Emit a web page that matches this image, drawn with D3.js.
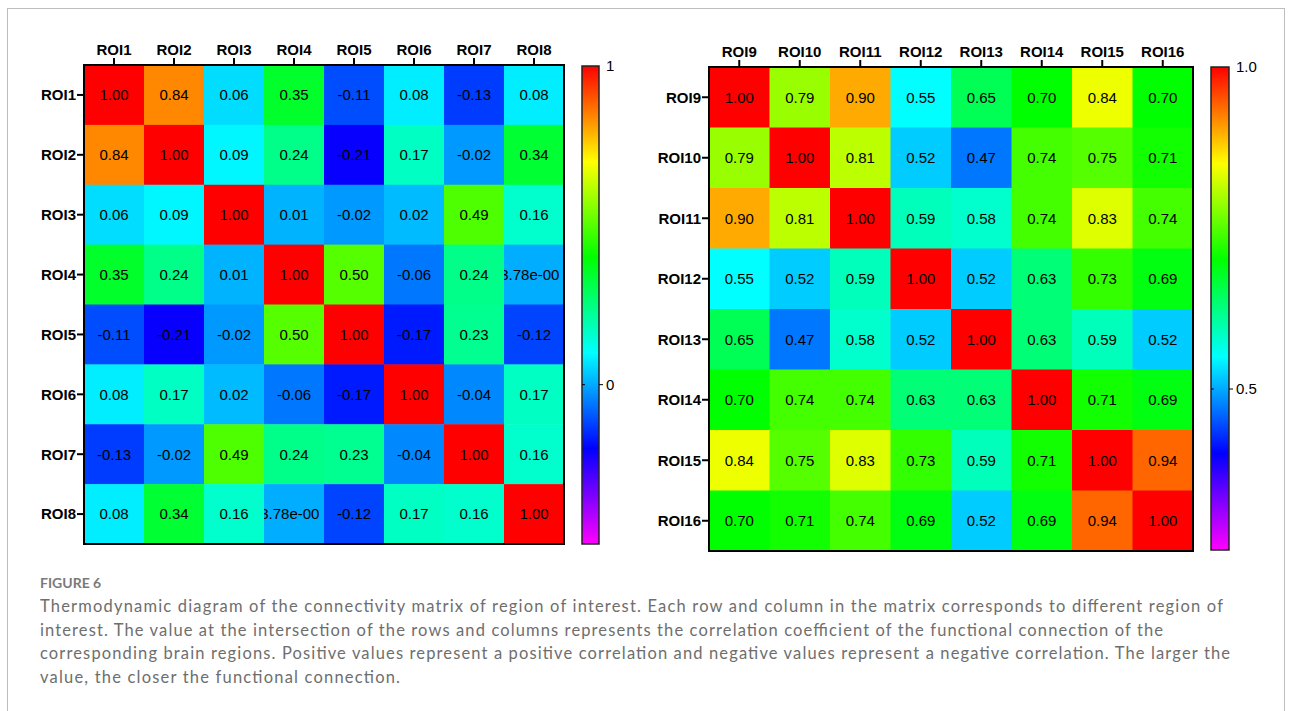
<!DOCTYPE html>
<html lang="en">
<head>
<meta charset="utf-8" />
<title>Figure 6 · ROI connectivity</title>
<style>
html,body{margin:0;background:#fff}
svg{display:block}
.lab{font:bold 15px "Liberation Sans",Arial,sans-serif;fill:#000}
.val{font:15px "Liberation Sans",Arial,sans-serif;fill:#000}
.cb{font:15px "Liberation Sans",Arial,sans-serif;fill:#000}
.cap{font:16.5px Lato,"Open Sans",sans-serif;fill:#6e6e6e}
.fig{font:bold 14px Lato,"Open Sans",sans-serif;fill:#7a7a7a}
</style>
<script src="https://cdn.jsdelivr.net/npm/d3@7/dist/d3.min.js"></script>
</head>
<body>
<div id="chart"></div>
<script>
// ---- data ----
const roiA = ["ROI1","ROI2","ROI3","ROI4","ROI5","ROI6","ROI7","ROI8"];
const roiB = ["ROI9","ROI10","ROI11","ROI12","ROI13","ROI14","ROI15","ROI16"];

const corrA = [
  [1.00, 0.84, 0.06, 0.35, -0.11, 0.08, -0.13, 0.08],
  [0.84, 1.00, 0.09, 0.24, -0.21, 0.17, -0.02, 0.34],
  [0.06, 0.09, 1.00, 0.01, -0.02, 0.02, 0.49, 0.16],
  [0.35, 0.24, 0.01, 1.00, 0.50, -0.06, 0.24, 0.00378],
  [-0.11, -0.21, -0.02, 0.50, 1.00, -0.17, 0.23, -0.12],
  [0.08, 0.17, 0.02, -0.06, -0.17, 1.00, -0.04, 0.17],
  [-0.13, -0.02, 0.49, 0.24, 0.23, -0.04, 1.00, 0.16],
  [0.08, 0.34, 0.16, 0.00378, -0.12, 0.17, 0.16, 1.00]
];
const corrB = [
  [1.00, 0.79, 0.90, 0.55, 0.65, 0.70, 0.84, 0.70],
  [0.79, 1.00, 0.81, 0.52, 0.47, 0.74, 0.75, 0.71],
  [0.90, 0.81, 1.00, 0.59, 0.58, 0.74, 0.83, 0.74],
  [0.55, 0.52, 0.59, 1.00, 0.52, 0.63, 0.73, 0.69],
  [0.65, 0.47, 0.58, 0.52, 1.00, 0.63, 0.59, 0.52],
  [0.70, 0.74, 0.74, 0.63, 0.63, 1.00, 0.71, 0.69],
  [0.84, 0.75, 0.83, 0.73, 0.59, 0.71, 1.00, 0.94],
  [0.70, 0.71, 0.74, 0.69, 0.52, 0.69, 0.94, 1.00]
];

const rangeA = [-0.5, 1];
const rangeB = [0.25, 1];
const ticksA = [1, 0];
const ticksB = [1.0, 0.5];
const tickFmtA = d3.format("d");
const tickFmtB = d3.format(".1f");

const rainbow = ["#ff00ff","#0000ff","#00ffff","#00ff00","#ffff00","#ff0000"];

const caption = [
  "Thermodynamic diagram of the connectivity matrix of region of interest. Each row and column in the matrix corresponds to different region of",
  "interest. The value at the intersection of the rows and columns represents the correlation coefficient of the functional connection of the",
  "corresponding brain regions. Positive values represent a positive correlation and negative values represent a negative correlation. The larger the",
  "value, the closer the functional connection."
];
const captionWidths = [1183, 1123, 1190, 360];

// ---- svg ----
const W = 1293, H = 711;
const svg = d3.select("#chart").append("svg").attr("width", W).attr("height", H);
const defs = svg.append("defs");

svg.append("rect")
   .attr("x", 7.5).attr("y", 8.5).attr("width", 1277).attr("height", 760)
   .attr("fill", "none").attr("stroke", "#bdbdbd").attr("stroke-width", 1);

function fmtVal(v) {
  return Math.abs(v) < 0.005 && v !== 0 ? v.toExponential(2).replace(/e-(\d)$/, "e-00$1") : v.toFixed(2);
}

function drawMatrix(id, labels, vals, dom, ticks, tickFmt, box, cb) {
  const stops = d3.range(rainbow.length).map(i => dom[0] + (dom[1] - dom[0]) * i / (rainbow.length - 1));
  const color = d3.scaleLinear().domain(stops).range(rainbow).interpolate(d3.interpolateRgb);

  const x = d3.scaleBand().domain(labels).range([box.x, box.x + box.w]);
  const y = d3.scaleBand().domain(labels).range([box.y, box.y + box.h]);

  const g = svg.append("g");
  const cells = [];
  vals.forEach((row, i) => row.forEach((v, j) => cells.push({r: labels[i], c: labels[j], v, i, j})));

  g.selectAll("rect.cell").data(cells).enter().append("rect")
    .attr("class", "cell")
    .attr("x", d => x(d.c)).attr("y", d => y(d.r))
    .attr("width", x.bandwidth() + 0.5).attr("height", y.bandwidth() + 0.5)
    .attr("fill", d => color(d.v));

  // clip each cell's label (a little short of the right edge, like the original)
  cells.forEach(d => {
    defs.append("clipPath").attr("id", `${id}-c${d.i}-${d.j}`)
      .append("rect").attr("x", x(d.c)).attr("y", y(d.r))
      .attr("width", x.bandwidth() - 5).attr("height", y.bandwidth());
  });

  g.selectAll("text.val").data(cells).enter().append("text")
    .attr("class", "val")
    .attr("clip-path", d => `url(#${id}-c${d.i}-${d.j})`)
    .attr("x", d => x(d.c) + x.bandwidth() / 2)
    .attr("y", d => y(d.r) + y.bandwidth() / 2)
    .attr("text-anchor", "middle").attr("dy", "0.36em")
    .text(d => fmtVal(d.v));

  g.append("rect")
    .attr("x", box.x).attr("y", box.y).attr("width", box.w).attr("height", box.h)
    .attr("fill", "none").attr("stroke", "#000").attr("stroke-width", 2);

  const top = g.append("g").attr("transform", `translate(0,${box.y - 1})`)
    .call(d3.axisTop(x).tickSize(6).tickPadding(3));
  const left = g.append("g").attr("transform", `translate(${box.x - 1},0)`)
    .call(d3.axisLeft(y).tickSize(6).tickPadding(1));
  [top, left].forEach(a => {
    a.select(".domain").remove();
    a.selectAll("line").attr("stroke", "#000").attr("stroke-width", 2);
    a.selectAll("text").attr("class", "lab").attr("font-size", null).attr("font-family", null);
  });
  left.selectAll("text").attr("dy", "0.36em");

  // colour bar
  const gid = `${id}-grad`;
  const grad = defs.append("linearGradient").attr("id", gid)
    .attr("x1", 0).attr("y1", 1).attr("x2", 0).attr("y2", 0);
  d3.range(0, 1.0001, 0.05).forEach(t => {
    grad.append("stop").attr("offset", t).attr("stop-color", color(dom[0] + t * (dom[1] - dom[0])));
  });
  const cy = d3.scaleLinear().domain(dom).range([cb.y + cb.h, cb.y]);
  g.append("rect").attr("x", cb.x).attr("y", cb.y).attr("width", cb.w).attr("height", cb.h)
    .attr("fill", `url(#${gid})`).attr("stroke", "#222").attr("stroke-width", 1.5);
  const tk = g.selectAll("g.cbt").data(ticks).enter().append("g").attr("class", "cbt")
    .attr("transform", d => `translate(0,${cy(d)})`);
  tk.filter(d => d !== dom[1]).append("line")
    .attr("x1", cb.x).attr("x2", cb.x + 3).attr("stroke", "#000");
  tk.filter(d => d !== dom[1]).append("line")
    .attr("x1", cb.x + cb.w).attr("x2", cb.x + cb.w + 4).attr("stroke", "#000");
  tk.append("text").attr("class", "cb")
    .attr("x", cb.x + cb.w + 7).attr("dy", d => d === dom[1] ? "0.3em" : "0.36em")
    .text(d => tickFmt(d));
}

drawMatrix("A", roiA, corrA, rangeA, ticksA, tickFmtA,
  {x: 84, y: 65, w: 480, h: 479}, {x: 582, y: 66, w: 17, h: 478});
drawMatrix("B", roiB, corrB, rangeB, ticksB, tickFmtB,
  {x: 709, y: 67, w: 484, h: 484}, {x: 1211, y: 67, w: 18, h: 483});

// ---- caption ----
svg.append("text").attr("class", "fig").attr("x", 40).attr("y", 588).text("FIGURE 6");
svg.selectAll("text.cap").data(caption).enter().append("text")
  .attr("class", "cap")
  .attr("x", 40).attr("y", (d, i) => 612 + i * 23.6)
  .attr("textLength", (d, i) => captionWidths[i]).attr("lengthAdjust", "spacing")
  .text(d => d);
</script>
</body>
</html>
